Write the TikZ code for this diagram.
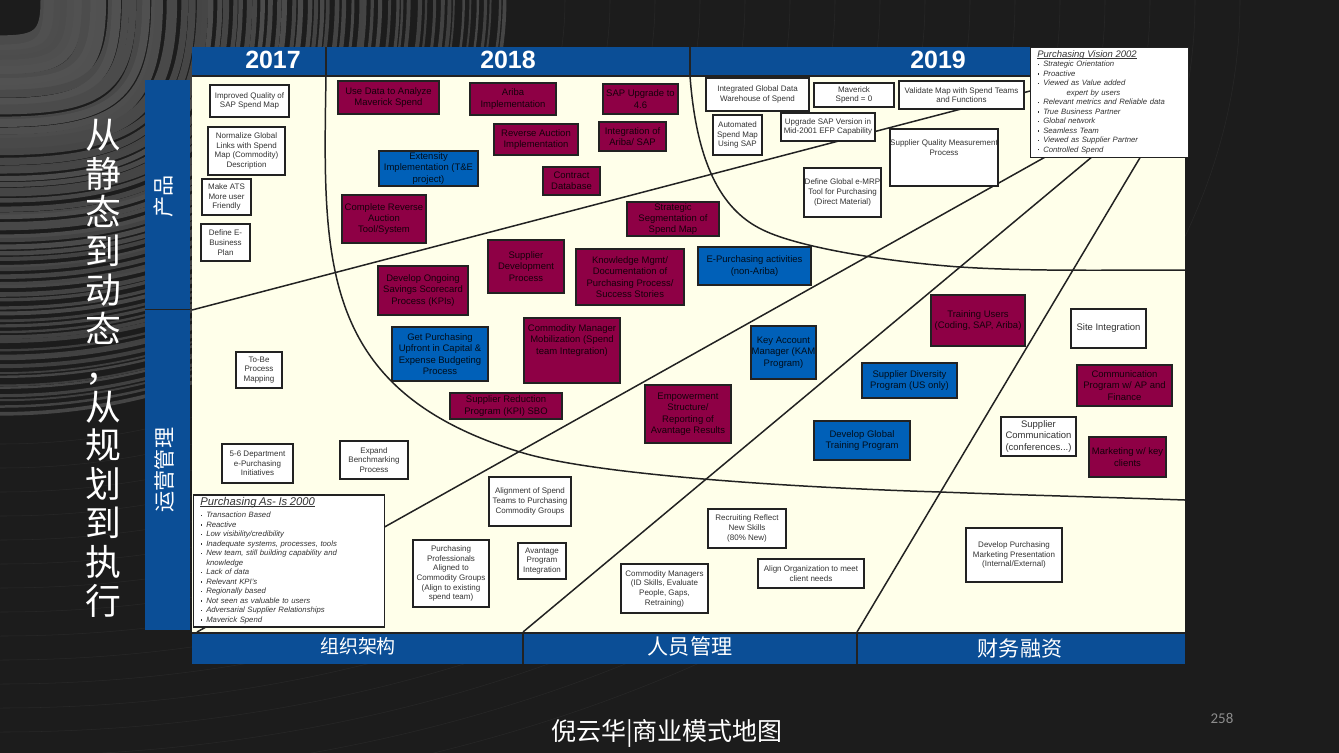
\documentclass[tikz,border=0pt]{standalone}
\usepackage{fontspec}
\setmainfont{Liberation Sans}
\newfontfamily\cjkfont{Noto Sans CJK SC}
\newfontfamily\pagefont{Carlito}

\definecolor{slidebg}{HTML}{1C1C1C}
\definecolor{bandblue}{HTML}{0B4E96}
\definecolor{papercream}{HTML}{FFFFEA}
\definecolor{boxmaroon}{HTML}{8E0045}
\definecolor{boxblue}{HTML}{0060B8}
\definecolor{boxedge}{HTML}{222222}

\newcommand{\bulletline}[1]{\makebox[5.7pt][c]{\rule[1pt]{.8pt}{.8pt}}#1\\}
\newcommand{\listtitle}[1]{\setbox0=\hbox{#1}\rlap{\rule[-.7pt]{\wd0}{.3pt}}\box0}

\tikzset{
  plainbox/.style={draw=boxedge, line width=0.85pt, inner sep=0pt, align=center},
  whitebox/.style={plainbox, fill=white, text=black!80, font=\fontsize{4.55}{5.5}\selectfont},
  whitelarge/.style={whitebox, font=\fontsize{5.4}{6.4}\selectfont},
  maroonbox/.style={plainbox, fill=boxmaroon, text=black!85!boxmaroon, font=\fontsize{5.4}{6.5}\selectfont},
  bluebox/.style={plainbox, fill=boxblue, text=black!85!boxblue, font=\fontsize{5.4}{6.5}\selectfont},
  boxsize/.style 2 args={minimum width=#1*0.02cm, minimum height=#2*0.02cm},
  listbox/.style={whitebox, anchor=north west, align=left, font=\fontsize{4.4}{5.4}\itshape\selectfont},
  yearlabel/.style={text=white, font=\fontsize{14.2}{16}\bfseries\selectfont},
  sectorlabel/.style={text=white, font=\cjkfont\fontsize{12}{14}\selectfont},
  divider/.style={draw=boxedge, line width=0.85pt}
}

\begin{document}
\begin{tikzpicture}[x=0.02cm, y=-0.02cm]

% Page and its background wires
\useasboundingbox (0,0) rectangle (1339,752);
\fill[slidebg] (-6,-6) rectangle (1345,758);
\pgfmathsetseed{7}
\foreach \i in {1,...,64}{
  \pgfmathsetmacro{\t}{\i/64}
  \pgfmathsetmacro{\xend}{34+\t*470+rnd*5}
  \pgfmathsetmacro{\yend}{34+\t*376+rnd*5}
  \pgfmathsetmacro{\bend}{.85-.3*\t}
  \pgfmathsetmacro{\tone}{46-14*\t+rnd*10}
  \pgfmathsetmacro{\wide}{1+4.5*(1-\t)*(1-\t)+rnd*1.2}
  \draw[gray!\tone!slidebg, line width=\wide pt]
    (0,\yend) .. controls (\bend*\xend,\yend) and (\xend,\bend*\yend) .. (\xend,0);
}
\foreach \i in {1,...,16}{
  \pgfmathsetmacro{\xend}{520+\i*45}
  \pgfmathsetmacro{\yend}{420+\i*24}
  \draw[gray!12!slidebg, line width=0.3pt]
    (0,\yend) .. controls (.55*\xend,\yend) and (\xend,.55*\yend) .. (\xend,0);
}

% Bands round the grid
\fill[papercream] (192,76) rectangle (1185,633);
\fill[bandblue] (192,47) rectangle (1030,76);
\fill[bandblue] (192,633) rectangle (1185,664);
\fill[bandblue] (145,80) rectangle (190,630);
\draw[divider] (145,309.5) -- (190,309.5);
\draw[divider] (192,76) -- (1030,76);
\draw[divider] (192,633) -- (1185,633);
\draw[divider] (326,47) -- (326,76);
\draw[divider] (690,47) -- (690,76);
\draw[divider] (523,633) -- (523,664);
\draw[divider] (857,633) -- (857,664);

% Band labels
\node[yearlabel] (y2017) at (273,60) {2017};
\node[yearlabel] (y2018) at (508,60) {2018};
\node[yearlabel] (y2019) at (938,60) {2019};
\node[sectorlabel, rotate=90] (product) at (164,196) {产品};
\node[sectorlabel, rotate=90] (operation) at (164,470) {运营管理};
\node[sectorlabel, font=\cjkfont\fontsize{10.8}{12}\selectfont] (structure) at (358,646) {组织架构};
\node[sectorlabel] (people) at (690,646) {人员管理};
\node[sectorlabel] (finance) at (1020,648) {财务融资};

% Year curves
\draw[divider] (326,76) .. controls (323,260) and (318,390) .. (520,452)
  .. controls (590,474) and (780,487) .. (940,492)
  .. controls (1020,495) and (1100,497) .. (1185,500);
\draw[divider] (690,76) .. controls (697,170) and (725,212) .. (763,230)
  .. controls (800,248) and (890,262) .. (960,267)
  .. controls (1030,271.5) and (1110,270) .. (1185,270);

% Lines running to the vision box
\coordinate (L1a) at (192,310);
\coordinate (L1b) at (1030,91);
\coordinate (L2a) at (197,632);
\coordinate (L2b) at (1047,156);
\coordinate (L3a) at (523,632);
\coordinate (L3b) at (1093,156);
\coordinate (L4a) at (857,632);
\coordinate (L4b) at (1141,156);
\draw[divider] (L1a) -- (L1b);
\draw[divider] (L2a) -- (L2b);
\draw[divider] (L3a) -- (L3b);
\draw[divider] (L4a) -- (L4b);

% White boxes
\node[whitebox, boxsize={79}{32}] (qualitymap) at (249.5,101) {Improved Quality of\\SAP Spend Map};
\node[whitebox, boxsize={77}{48}] (normalize) at (246.5,151) {Normalize Global\\Links with Spend\\Map (Commodity)\\Description};
\node[whitebox, boxsize={49}{36}] (makeats) at (226.5,197) {Make ATS\\More user\\Friendly};
\node[whitebox, boxsize={49}{37}] (definebiz) at (225.5,242.5) {Define E-\\Business\\Plan};
\node[whitebox, boxsize={46}{36}] (tobe) at (259,370) {To-Be\\Process\\Mapping};
\node[whitebox, boxsize={71}{39}] (initiatives) at (257.5,463.5) {5-6 Department\\e-Purchasing\\Initiatives};
\node[whitebox, boxsize={68}{38}] (benchmark) at (374,460) {Expand\\Benchmarking\\Process};
\node[whitebox, boxsize={82}{49}] (alignment) at (530,501.5) {Alignment of Spend\\Teams to Purchasing\\Commodity Groups};
\node[whitebox, boxsize={76}{67}] (professionals) at (451,573.5) {Purchasing\\Professionals\\Aligned to\\Commodity Groups\\(Align to existing\\spend team)};
\node[whitebox, boxsize={48}{36}] (avantage) at (542,561) {Avantage\\Program\\Integration};
\node[whitebox, boxsize={87}{49}] (managers) at (664.5,588.5) {Commodity Managers\\(ID Skills, Evaluate\\People, Gaps,\\Retraining)};
\node[whitebox, boxsize={78}{39}] (recruiting) at (747,528.5) {Recruiting Reflect\\New Skills\\(80\% New)};
\node[whitebox, boxsize={106}{29}] (alignorg) at (811,573.5) {Align Organization to meet\\client needs};
\node[whitebox, boxsize={96}{54}] (marketingpres) at (1014,555) {Develop Purchasing\\Marketing Presentation\\(Internal/External)};
\node[whitelarge, boxsize={75}{39}] (site) at (1108.5,328.5) {Site Integration};
\node[whitelarge, boxsize={75}{39}] (suppliercom) at (1038.5,436.5) {Supplier\\Communication\\(conferences...)};
\node[whitebox, boxsize={103}{33}] (warehouse) at (757.5,94.5) {Integrated Global Data\\Warehouse of Spend};
\node[whitebox, boxsize={80}{24}] (maverick) at (854,95) {Maverick\\Spend = 0};
\node[whitebox, boxsize={125}{28}] (validate) at (961.5,95) {Validate Map with Spend Teams\\and Functions};
\node[whitebox, boxsize={49}{40}] (automated) at (737.5,135) {Automated\\Spend Map\\Using SAP};
\node[whitebox, boxsize={94}{28}] (upgrade) at (828,127) {Upgrade SAP Version in\\Mid-2001 EFP Capability};
\node[whitebox, boxsize={77}{49}] (emrp) at (842.5,192.5) {Define Global e-MRP\\Tool for Purchasing\\(Direct Material)};
\node[whitebox, boxsize={108}{57}] (quality) at (944,157.5) {Supplier Quality Measurement\\Process\\[6pt]};

% Maroon boxes
\node[maroonbox, boxsize={101}{33}] (usedata) at (388.5,97.5) {Use Data to Analyze\\Maverick Spend};
\node[maroonbox, boxsize={86}{32}] (ariba) at (513,99) {Ariba\\Implementation};
\node[maroonbox, boxsize={75}{30}] (sap46) at (640.5,99) {SAP Upgrade to\\4.6};
\node[maroonbox, boxsize={84}{31}] (reverse) at (536,139.5) {Reverse Auction\\Implementation};
\node[maroonbox, boxsize={67}{29}] (integration) at (632.5,136.5) {Integration of\\Ariba/ SAP};
\node[maroonbox, boxsize={57}{28}] (contract) at (571.5,181) {Contract\\Database};
\node[maroonbox, boxsize={84}{48}] (complete) at (384,219) {Complete Reverse\\Auction\\Tool/System};
\node[maroonbox, boxsize={92}{34}] (strategic) at (673,219) {Strategic\\Segmentation of\\Spend Map};
\node[maroonbox, boxsize={76}{53}] (development) at (526,266.5) {Supplier\\Development\\Process};
\node[maroonbox, boxsize={90}{49}] (savings) at (423,290.5) {Develop Ongoing\\Savings Scorecard\\Process (KPIs)};
\node[maroonbox, boxsize={108}{56}] (knowledge) at (630,277) {Knowledge Mgmt/\\Documentation of\\Purchasing Process/\\Success Stories};
\node[maroonbox, boxsize={96}{65}] (mobilization) at (572,350.5) {Commodity Manager\\Mobilization (Spend\\team Integration)\\[6pt]};
\node[maroonbox, boxsize={112}{26}] (reduction) at (506,406) {Supplier Reduction\\Program (KPI) SBO};
\node[maroonbox, boxsize={86}{58}] (empowerment) at (688,414) {Empowerment\\Structure/\\Reporting of\\Avantage Results};
\node[maroonbox, boxsize={94}{51}] (training) at (978,320.5) {Training Users\\(Coding, SAP, Ariba)};
\node[maroonbox, boxsize={95}{41}] (communication) at (1124.5,385.5) {Communication\\Program w/ AP and\\Finance};
\node[maroonbox, boxsize={77}{40}] (marketing) at (1127.5,457) {Marketing w/ key\\clients};

% Blue boxes
\node[bluebox, boxsize={99}{35}] (extensity) at (428.5,168.5) {Extensity\\Implementation (T\&E\\project)};
\node[bluebox, boxsize={113}{38}] (epurchasing) at (754.5,266) {E-Purchasing activities\\(non-Ariba)};
\node[bluebox, boxsize={96}{54}] (upfront) at (440,354) {Get Purchasing\\Upfront in Capital \&\\Expense Budgeting\\Process};
\node[bluebox, boxsize={65}{53}] (keyaccount) at (783.5,352.5) {Key Account\\Manager (KAM\\Program)};
\node[bluebox, boxsize={95}{35}] (diversity) at (909.5,380.5) {Supplier Diversity\\Program (US only)};
\node[bluebox, boxsize={96}{39}] (globaltraining) at (862,440.5) {Develop Global\\Training Program};

% Vision and as-is lists
\node[listbox, boxsize={158}{110}, text width=152*0.02cm] (vision) at (1029.5,46.5) {%
  \hspace{2.3pt}{\fontsize{5.4}{6}\selectfont\listtitle{Purchasing Vision 2002}}\\[-.1pt]
  \bulletline{Strategic Orientation}
  \bulletline{Proactive}
  \bulletline{Viewed as Value added}
  \hspace{19pt}expert by users\\
  \bulletline{Relevant metrics and Reliable data}
  \bulletline{True Business Partner}
  \bulletline{Global network}
  \bulletline{Seamless Team}
  \bulletline{Viewed as Supplier Partner}
  \bulletline{Controlled Spend}[3.1pt]};
\node[listbox, boxsize={191}{132}, text width=186*0.02cm] (asis) at (193,494) {%
  \hspace{2.3pt}{\fontsize{6.4}{7}\selectfont\listtitle{Purchasing As- Is 2000}}\\[1.5pt]
  \bulletline{Transaction Based}
  \bulletline{Reactive}
  \bulletline{Low visibility/credibility}
  \bulletline{Inadequate systems, processes, tools}
  \bulletline{New team, still building capability and}
  \hspace{5.7pt}knowledge\\
  \bulletline{Lack of data}
  \bulletline{Relevant KPI's}
  \bulletline{Regionally based}
  \bulletline{Not seen as valuable to users}
  \bulletline{Adversarial Supplier Relationships}
  \bulletline{Maverick Spend}[4.3pt]};

% Slide texts
\node[text=white, align=center, font=\cjkfont\fontsize{20.4}{22.1}\selectfont] (headline) at (103,368)
  {从\\静\\态\\到\\动\\态\\，\\从\\规\\划\\到\\执\\行};
\node[text=white, font=\cjkfont\fontsize{14.2}{16}\selectfont] (author) at (667,733) {倪云华|商业模式地图};
\node[text=gray!90, font=\pagefont\fontsize{8.5}{10}\selectfont] (pagenum) at (1222,718) {258};

\end{tikzpicture}
\end{document}
